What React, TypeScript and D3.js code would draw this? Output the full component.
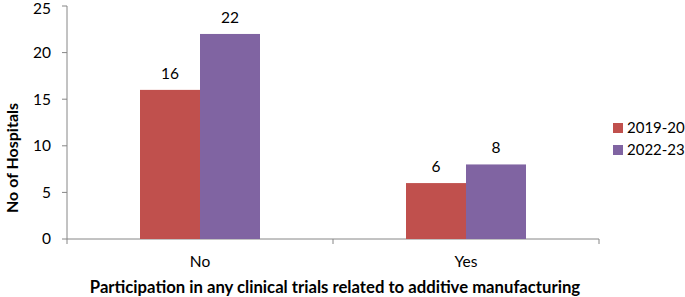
import React from "react";
import * as d3 from "d3";

const categories = ["No", "Yes"];
const seriesNames = ["2019-20", "2022-23"];
const values2019 = [16, 6];
const values2022 = [22, 8];
const yTicks = [0, 5, 10, 15, 20, 25];
const colors = ["#C0504D", "#8064A2"];

const W = 685, H = 297;
const M = { left: 67, right: 599, top: 6, bottom: 239 };
const FONT = "Lato, 'Open Sans', sans-serif";

export default function App() {
  const x = d3.scaleBand<string>().domain(categories).range([M.left, M.right]);
  const inner = d3.scaleBand<string>().domain(seriesNames).range([0, 120]);
  const y = d3.scaleLinear().domain([0, 25]).range([M.bottom, M.top]);
  const series = [values2019, values2022];
  const bw = x.bandwidth();
  return (
    <svg width={W} height={H} style={{ position: "absolute", left: 0, top: 0, background: "#fff" }} fontFamily={FONT}>
      {/* axes */}
      <line x1={M.left} x2={M.left} y1={M.top} y2={M.bottom} stroke="#868686" strokeWidth={1} />
      <line x1={M.left} x2={M.right} y1={M.bottom} y2={M.bottom} stroke="#868686" strokeWidth={1} />
      {yTicks.map((t) => (
        <g key={t}>
          <line x1={M.left - 5} x2={M.left} y1={y(t)} y2={y(t)} stroke="#868686" />
          <text x={M.left - 16} y={Math.max(y(t), 9)} dy="0.35em" textAnchor="end" fontSize={15.5} fill="#000">{t}</text>
        </g>
      ))}
      {[...categories.map((c) => x(c)!), M.right].map((px, i) => (
        <line key={i} x1={px} x2={px} y1={M.bottom} y2={M.bottom + 5} stroke="#868686" />
      ))}
      {categories.map((c, ci) => {
        const cx = x(c)! + bw / 2;
        return (
          <g key={c}>
            {series.map((vals, si) => {
              const bx = cx - 60 + inner(seriesNames[si])!;
              return (
                <g key={si}>
                  <rect x={bx} y={y(vals[ci])} width={inner.bandwidth()} height={M.bottom - y(vals[ci])} fill={colors[si]} />
                  <text x={bx + inner.bandwidth() / 2} y={y(vals[ci]) - 11} textAnchor="middle" fontSize={15.5} fill="#000">{vals[ci]}</text>
                </g>
              );
            })}
            <text x={cx} y={262} dy="0.35em" textAnchor="middle" fontSize={15.5} fill="#000">{c}</text>
          </g>
        );
      })}
      <text x={335} y={287} dy="0.35em" textAnchor="middle" fontSize={16.7} fontWeight="bold" fill="#000">
        Participation in any clinical trials related to additive manufacturing
      </text>
      <text transform={`translate(12,${158}) rotate(-90)`} dy="0.35em" textAnchor="middle" fontSize={16} fontWeight="bold" fill="#000">
        No of Hospitals
      </text>
      {seriesNames.map((s, i) => (
        <g key={s} transform={`translate(613,${123 + i * 22})`}>
          <rect x={0} y={0} width={10} height={10} fill={colors[i]} />
          <text x={14} y={5} dy="0.35em" fontSize={15} fill="#000">{s}</text>
        </g>
      ))}
    </svg>
  );
}
